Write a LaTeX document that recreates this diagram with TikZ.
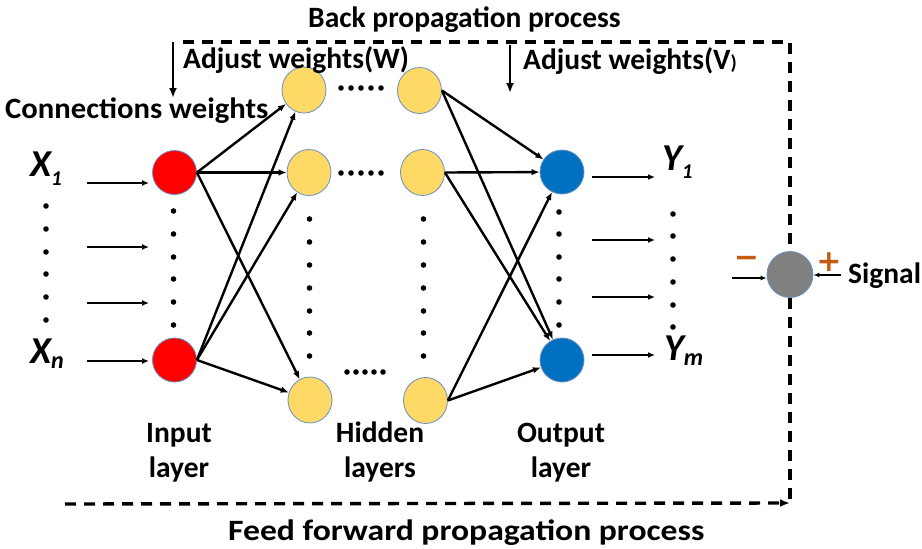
\documentclass[tikz,border=0pt]{standalone}
\usepackage{fontspec}
\setmainfont{Carlito}
\newfontfamily\djv{DejaVu Sans}
\usepackage{graphicx}
\usetikzlibrary{arrows.meta,shapes.geometric}
\definecolor{nred}{HTML}{FF0000}
\definecolor{nyel}{HTML}{FFD966}
\definecolor{nblue}{HTML}{0070C0}
\definecolor{ngray}{HTML}{808080}
\definecolor{nedge}{HTML}{6A8FC4}
\definecolor{sgn}{HTML}{C55A11}
\begin{document}
\begin{tikzpicture}[x=1pt,y=-1pt,
 neuron/.style={circle,draw=nedge,line width=0.8pt,minimum size=44pt,inner sep=0},
 hid/.style={ellipse,draw=nedge,line width=0.8pt,fill=nyel,minimum width=44pt,minimum height=46pt,inner sep=0},
 conn/.style={line width=2.4pt,-{Latex[length=8pt,width=6.5pt]}},
 inarr/.style={line width=2.2pt,-{Latex[length=7pt,width=6pt]}},
 smarr/.style={line width=1.8pt,-{Latex[length=6pt,width=5pt]}},
 dashln/.style={line width=3.4pt,dash pattern=on 11pt off 8pt},
 dwn/.style={line width=2.7pt,-{Latex[length=10pt,width=8pt]}},
 ttl/.style={font=\fontsize{29.5}{34}\selectfont\bfseries,inner sep=0,anchor=base west},
 lbl/.style={font=\fontsize{29.5}{35}\selectfont\bfseries,inner sep=0,align=center,anchor=base},
 var/.style={font=\fontsize{38}{40}\selectfont\bfseries\itshape,inner sep=0,anchor=base west},
 sign/.style={font=\djv\bfseries\fontsize{30}{34}\selectfont,text=sgn,inner sep=0}
]
\useasboundingbox (0,0) rectangle (922,549);

% neurons
\node[neuron,fill=nred] (I1) at (174.5,172.5) {};
\node[neuron,fill=nred] (I2) at (174.5,360) {};
\node[hid] (A1) at (304,90) {};
\node[hid] (A2) at (309,172.5) {};
\node[hid] (A3) at (310,400) {};
\node[hid] (B1) at (419.5,90.5) {};
\node[hid] (B2) at (422.5,172.5) {};
\node[hid] (B3) at (425.5,400.5) {};
\node[neuron,fill=nblue] (O1) at (562,172) {};
\node[neuron,fill=nblue] (O2) at (562,360) {};
\node[neuron,fill=ngray,minimum size=46pt] (G) at (790,274.5) {};

% titles
\node[ttl] (tback) at (308,27) {Back propagation process};
\node[ttl] (tw) at (183,68) {Adjust weights(W)};
\node[ttl] (tv) at (523,69) {Adjust weights(V{\fontsize{20}{24}\selectfont)}};
\node[ttl] (tconn) at (5,118) {\scalebox{1.04}[1]{Connections weights}};
\node[ttl] (tfeed) at (228,540) {\scalebox{1.14}[1]{Feed forward propagation process}};
\node[ttl] (tsig) at (848,283) {Signal};

% layer labels
\node[lbl] (lin) at (179,477) {Input\\layer};
\node[lbl] (lhid) at (380,477) {Hidden\\layers};
\node[lbl] (lout) at (561,477) {Output\\layer};

% variables
\node[var] (x1) at (30,176) {X\raisebox{-9pt}{\fontsize{21}{24}\selectfont 1}};
\node[var] (xn) at (30,363) {X\raisebox{-5pt}{\fontsize{24}{26}\selectfont n}};
\node[var] (y1) at (662,170) {Y\raisebox{-8pt}{\fontsize{21}{24}\selectfont 1}};
\node[var] (ym) at (664,360) {Y\raisebox{-5pt}{\fontsize{24}{26}\selectfont m}};

% signs
\node[sign] (minus) at (746.5,262) {−};
\node[sign] (plus) at (829,262) {+};

% dashed loop
\coordinate (tl) at (183,42);
\coordinate (tr) at (790,42);
\coordinate (br) at (790,503);
\coordinate (bl) at (65,504);
\draw[dashln] (tl) -- (tr) -- (G.north);
\draw[dashln] (G.south) -- (br);
\draw[dashln,-{Latex[length=10pt,width=8pt]}] (bl) -- (br);

% down arrows
\coordinate (d1s) at (173,42); \coordinate (d1e) at (173,98);
\coordinate (d2s) at (510,45); \coordinate (d2e) at (510,93);
\draw[dwn] (d1s) -- (d1e);
\draw[dwn] (d2s) -- (d2e);

% input arrows
\foreach \i/\y in {1/183,2/247,3/303,4/361}{
  \coordinate (ia\i) at (87,\y); \coordinate (ib\i) at (149,\y);
  \draw[inarr] (ia\i) -- (ib\i);
}
% output arrows
\foreach \i/\y in {1/177,2/240,3/297,4/355}{
  \coordinate (oa\i) at (592,\y); \coordinate (ob\i) at (655,\y);
  \draw[inarr] (oa\i) -- (ob\i);
}

% signal arrows
\coordinate (gl) at (732,278); \coordinate (gr) at (841,275);
\draw[smarr] (gl) -- (G.west |- gl);
\draw[smarr] (gr) -- (G.east |- gr);

% connections input -> hidden
\foreach \s in {I1,I2}{
  \foreach \t in {A1,A2,A3}{
    \draw[conn] (\s.east) -- (\t);
  }
}
% hidden -> output
\foreach \s in {B1,B2,B3}{
  \foreach \t in {O1,O2}{
    \draw[conn] (\s.east) -- (\t);
  }
}

% dots
\foreach \y in {206,229,252,274,297,320} \fill (46,\y) circle (2.8pt);
\foreach \y in {211,234,257,279,302,325} \fill (173.5,\y) circle (2.8pt);
\foreach \y in {219,242,265,288,311,333,356} \fill (309.5,\y) circle (2.8pt);
\foreach \y in {219,242,265,288,311,333,356} \fill (423.5,\y) circle (2.8pt);
\foreach \y in {212,234,257,279,302,325} \fill (559,\y) circle (2.8pt);
\foreach \y in {214,236,259,282,305,327} \fill (673,\y) circle (2.8pt);
\foreach \x in {341,351,361,371,381} {\fill (\x,88) circle (2.8pt); \fill (\x,173) circle (2.8pt);}
\foreach \x in {347,356,365,374,383} \fill (\x,372) circle (2.8pt);
\end{tikzpicture}
\end{document}
